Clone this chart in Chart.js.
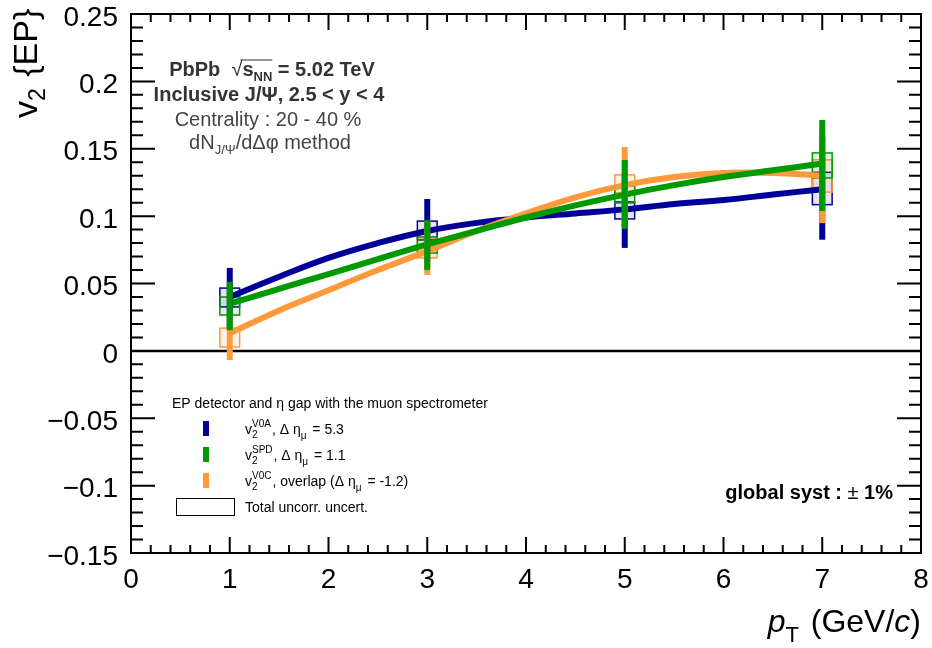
<!DOCTYPE html>
<html>
<head>
<meta charset="utf-8">
<script src="https://cdn.jsdelivr.net/npm/chart.js@4.4.0/dist/chart.umd.min.js"></script>
<style>
  body { margin: 0; background: #fff; }
  #wrap { width: 932px; height: 648px; }
</style>
</head>
<body>
<div id="wrap"><canvas id="v2Chart" width="932" height="648"></canvas></div>
<script>
// ---- data ----
var ptBins = [1, 3, 5, 7];

var v2V0A   = [0.0396, 0.0893, 0.1042, 0.1205];
var statV0A = [0.022, 0.0234, 0.0278, 0.038];
var systV0A = [0.007, 0.007, 0.0063, 0.012];

var v2SPD   = [0.0333, 0.0786, 0.1161, 0.1376];
var statSPD = [0.018, 0.0185, 0.0256, 0.0338];
var systSPD = [0.0067, 0.006, 0.0063, 0.0093];

var v2V0C   = [0.0099, 0.0764, 0.1239, 0.1298];
var statV0C = [0.0167, 0.020, 0.0274, 0.035];
var systV0C = [0.007, 0.0074, 0.0067, 0.012];

var systHalfWidth = 0.1;

// fitted curves
var fitPt  = [1, 1.5, 2, 2.5, 3, 3.5, 4, 4.5, 5, 5.5, 6, 6.5, 7];
var fitV0A = [0.040, 0.055, 0.069, 0.080, 0.089, 0.095, 0.099, 0.102, 0.105, 0.109, 0.112, 0.116, 0.120];
var fitSPD = [0.035, 0.046, 0.057, 0.068, 0.079, 0.089, 0.099, 0.108, 0.116, 0.123, 0.129, 0.134, 0.139];
var fitV0C = [0.013, 0.030, 0.045, 0.060, 0.074, 0.089, 0.102, 0.114, 0.123, 0.129, 0.132, 0.132, 0.130];

var xTicks = [0, 1, 2, 3, 4, 5, 6, 7, 8];
var xTickLabels = ['0', '1', '2', '3', '4', '5', '6', '7', '8'];
var yTicks = [-0.15, -0.1, -0.05, 0, 0.05, 0.1, 0.15, 0.2, 0.25];
var yTickLabels = ['\u22120.15', '\u22120.1', '\u22120.05', '0', '0.05', '0.1', '0.15', '0.2', '0.25'];

var cBlue = '#000099';
var cGreen = '#009900';
var cOrange = '#ff9a3c';
var FONT = '"Liberation Sans", Arial, Helvetica, sans-serif';

// drawing order for bars / boxes : blue, orange, green (green on top)
var series = [
  { v: v2V0A, stat: statV0A, syst: systV0A, color: cBlue,   fill: 'rgba(0,0,153,0.10)' },
  { v: v2V0C, stat: statV0C, syst: systV0C, color: cOrange, fill: 'rgba(255,154,60,0.12)' },
  { v: v2SPD, stat: statSPD, syst: systSPD, color: cGreen,  fill: 'rgba(0,153,0,0.10)' }
];

function curve(ys) {
  return fitPt.map(function (x, i) { return { x: x, y: ys[i] }; });
}

// rich text: parts = [{t, f, dy, t2, dy2}]
function drawRich(ctx, parts, x, y, align) {
  var w = 0;
  parts.forEach(function (p) {
    ctx.font = p.f;
    var a = ctx.measureText(p.t).width;
    var b = p.t2 ? ctx.measureText(p.t2).width : 0;
    p.w = Math.max(a, b) + (p.gap || 0);
    w += p.w;
  });
  var cx = align === 'center' ? x - w / 2 : (align === 'right' ? x - w : x);
  ctx.textAlign = 'left';
  ctx.textBaseline = 'alphabetic';
  parts.forEach(function (p) {
    ctx.font = p.f;
    ctx.fillText(p.t, cx, y + (p.dy || 0));
    if (p.t2) ctx.fillText(p.t2, cx, y + p.dy2);
    p.x0 = cx;
    cx += p.w;
  });
  return parts;
}

var rootDecor = {
  id: 'rootDecor',
  beforeDatasetsDraw: function (chart) {
    var ctx = chart.ctx, xs = chart.scales.x, ys = chart.scales.y;
    ctx.save();
    // zero line
    ctx.strokeStyle = '#000';
    ctx.lineWidth = 2.5;
    ctx.beginPath();
    ctx.moveTo(xs.getPixelForValue(0), ys.getPixelForValue(0));
    ctx.lineTo(xs.getPixelForValue(8), ys.getPixelForValue(0));
    ctx.stroke();
    // syst boxes
    series.forEach(function (s) {
      ptBins.forEach(function (pt, i) {
        var x0 = xs.getPixelForValue(pt - systHalfWidth), x1 = xs.getPixelForValue(pt + systHalfWidth);
        var y0 = ys.getPixelForValue(s.v[i] + s.syst[i]), y1 = ys.getPixelForValue(s.v[i] - s.syst[i]);
        ctx.fillStyle = s.fill;
        ctx.fillRect(x0, y0, x1 - x0, y1 - y0);
        ctx.strokeStyle = s.color;
        ctx.lineWidth = 1.5;
        ctx.strokeRect(x0, y0, x1 - x0, y1 - y0);
      });
    });
    ctx.restore();
  },
  afterDatasetsDraw: function (chart) {
    var ctx = chart.ctx, xs = chart.scales.x, ys = chart.scales.y, a = chart.chartArea;
    ctx.save();
    // stat error bars
    series.forEach(function (s) {
      ctx.strokeStyle = s.color;
      ctx.lineWidth = 6;
      ctx.lineCap = 'butt';
      ptBins.forEach(function (pt, i) {
        var x = xs.getPixelForValue(pt);
        ctx.beginPath();
        ctx.moveTo(x, ys.getPixelForValue(s.v[i] + s.stat[i]));
        ctx.lineTo(x, ys.getPixelForValue(s.v[i] - s.stat[i]));
        ctx.stroke();
      });
    });
    // frame
    ctx.strokeStyle = '#000';
    ctx.lineWidth = 2;
    ctx.strokeRect(a.left, a.top, a.right - a.left, a.bottom - a.top);
    ctx.beginPath();
    var k, v, p, len;
    for (k = 0; k <= 40; k++) {
      v = k * 0.2;
      p = xs.getPixelForValue(v);
      len = (k % 5 === 0) ? 16 : 8;
      ctx.moveTo(p, a.bottom); ctx.lineTo(p, a.bottom - len);
      ctx.moveTo(p, a.top); ctx.lineTo(p, a.top + len);
    }
    for (k = 0; k <= 40; k++) {
      v = -0.15 + k * 0.01;
      p = ys.getPixelForValue(v);
      len = (k % 5 === 0) ? 24 : 12;
      ctx.moveTo(a.left, p); ctx.lineTo(a.left + len, p);
      ctx.moveTo(a.right, p); ctx.lineTo(a.right - len, p);
    }
    ctx.stroke();
    ctx.restore();
  },
  afterDraw: function (chart) {
    var ctx = chart.ctx;
    ctx.save();

    // ---- info block ----
    ctx.fillStyle = '#333';
    var b20 = 'bold 20px ' + FONT, n20 = '20px ' + FONT, b13 = 'bold 13px ' + FONT, n13 = '13px ' + FONT;
    var l1 = drawRich(ctx, [
      { t: 'PbPb  ', f: b20 },
      { t: '\u221A', f: n20 },
      { t: 's', f: b20 },
      { t: 'NN', f: b13, dy: 5 },
      { t: ' = 5.02 TeV', f: b20 }
    ], 272, 76, 'center');
    ctx.strokeStyle = '#333';
    ctx.lineWidth = 1.2;
    ctx.beginPath();
    ctx.moveTo(l1[1].x0 + l1[1].w - 2, 60);
    ctx.lineTo(l1[3].x0 + l1[3].w, 60);
    ctx.stroke();
    drawRich(ctx, [{ t: 'Inclusive J/\u03A8, 2.5 < y < 4', f: b20 }], 269, 101, 'center');
    ctx.fillStyle = '#444';
    drawRich(ctx, [{ t: 'Centrality : 20 - 40 %', f: n20 }], 268, 126, 'center');
    drawRich(ctx, [
      { t: 'dN', f: n20 },
      { t: 'J/\u03A8', f: n13, dy: 5 },
      { t: '/d\u0394\u03C6 method', f: n20 }
    ], 270, 149, 'center');

    // ---- legend ----
    ctx.fillStyle = '#000';
    var n14 = '14px ' + FONT, n10 = '10px ' + FONT;
    drawRich(ctx, [{ t: 'EP detector and \u03B7 gap with the muon spectrometer', f: n14 }], 172, 408, 'left');
    var legendRows = [
      { color: cBlue,   sup: 'V0A', rest: [', \u0394 \u03B7', '\u03BC', ' = 5.3'], base: 434 },
      { color: cGreen,  sup: 'SPD', rest: [', \u0394 \u03B7', '\u03BC', ' = 1.1'], base: 460 },
      { color: cOrange, sup: 'V0C', rest: [', overlap (\u0394 \u03B7', '\u03BC', ' = -1.2)'], base: 486 }
    ];
    legendRows.forEach(function (r) {
      ctx.fillStyle = r.color;
      ctx.fillRect(203, r.base - 13, 6, 15);
      ctx.fillStyle = '#000';
      drawRich(ctx, [
        { t: 'v', f: n14 },
        { t: '2', f: n10, dy: 4, t2: r.sup, dy2: -7, gap: 1 },
        { t: r.rest[0], f: n14 },
        { t: r.rest[1], f: n10, dy: 5, gap: 2 },
        { t: r.rest[2], f: n14 }
      ], 245, r.base, 'left');
    });
    ctx.strokeStyle = '#000';
    ctx.lineWidth = 1;
    ctx.strokeRect(176.5, 498.5, 58, 17);
    drawRich(ctx, [{ t: 'Total uncorr. uncert.', f: n14 }], 245, 512, 'left');

    // ---- global syst ----
    drawRich(ctx, [
      { t: 'global syst : ', f: b20 },
      { t: '\u00B1', f: n20 },
      { t: ' 1%', f: b20 }
    ], 893, 499, 'right');

    // ---- axis titles ----
    var i32 = 'italic 32px ' + FONT, n32 = '32px ' + FONT, n22 = '22px ' + FONT;
    drawRich(ctx, [
      { t: 'p', f: i32 },
      { t: 'T', f: n22, dy: 10, gap: 3 },
      { t: ' (GeV/', f: n32 },
      { t: 'c', f: i32 },
      { t: ')', f: n32 }
    ], 921, 632, 'right');

    ctx.save();
    ctx.translate(37, 118);
    ctx.rotate(-Math.PI / 2);
    drawRich(ctx, [
      { t: 'v', f: '34px ' + FONT },
      { t: '2', f: '23px ' + FONT, dy: 8, gap: 2 },
      { t: ' {EP}', f: '34px ' + FONT }
    ], 0, 0, 'left');
    ctx.restore();

    ctx.restore();
  }
};

new Chart(document.getElementById('v2Chart'), {
  type: 'scatter',
  data: {
    datasets: [
      { type: 'line', data: curve(fitSPD), borderColor: cGreen, borderWidth: 6, pointRadius: 0, tension: 0.4, fill: false },
      { type: 'line', data: curve(fitV0C), borderColor: cOrange, borderWidth: 6, pointRadius: 0, tension: 0.4, fill: false },
      { type: 'line', data: curve(fitV0A), borderColor: cBlue, borderWidth: 6, pointRadius: 0, tension: 0.4, fill: false }
    ]
  },
  options: {
    responsive: false,
    animation: false,
    devicePixelRatio: 1,
    layout: { padding: { top: 14, right: 11, left: 0, bottom: 0 } },
    plugins: { legend: { display: false }, tooltip: { enabled: false } },
    scales: {
      x: {
        type: 'linear', min: 0, max: 8,
        afterBuildTicks: function (s) { s.ticks = xTicks.map(function (v) { return { value: v }; }); },
        afterFit: function (s) { s.height = 95; s.paddingLeft = 0; s.paddingRight = 0; },
        grid: { display: false, drawTicks: false },
        border: { display: false },
        ticks: {
          autoSkip: false, maxRotation: 0, padding: 10, color: '#000',
          font: { family: FONT, size: 28 },
          callback: function (v, i) { return xTickLabels[i]; }
        }
      },
      y: {
        type: 'linear', min: -0.15, max: 0.25,
        afterBuildTicks: function (s) { s.ticks = yTicks.map(function (v) { return { value: v }; }); },
        afterFit: function (s) { s.width = 131; s.paddingTop = 0; s.paddingBottom = 0; },
        grid: { display: false, drawTicks: false },
        border: { display: false },
        ticks: {
          autoSkip: false, padding: 13, color: '#000', labelOffset: 4,
          font: { family: FONT, size: 28 },
          callback: function (v, i) { return yTickLabels[i]; }
        }
      }
    }
  },
  plugins: [rootDecor]
});
</script>
</body>
</html>
